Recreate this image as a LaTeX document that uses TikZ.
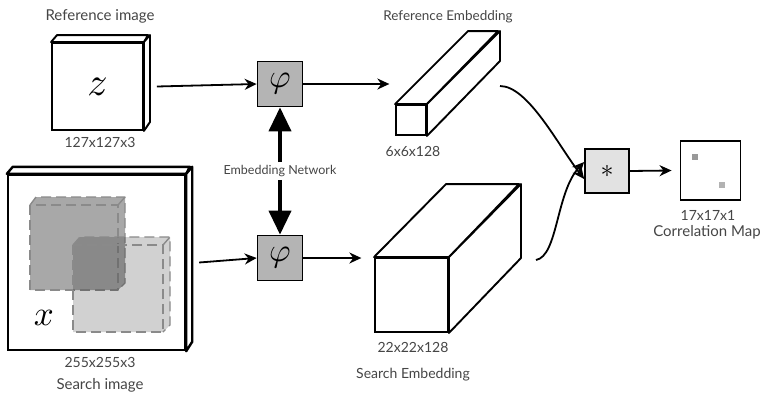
\documentclass[tikz,border=0pt]{standalone}
\usepackage{fontspec}
\setmainfont{Lato}
\usetikzlibrary{arrows.meta}
\definecolor{txt}{HTML}{454545}
\definecolor{phigray}{HTML}{B4B4B4}
\definecolor{stargray}{HTML}{E2E2E2}
\definecolor{dashgray}{HTML}{8A8A8A}
\begin{document}
\begin{tikzpicture}[x=1pt,y=-1pt,
  lab/.style={text=txt,font=\fontsize{15}{16}\selectfont,inner sep=0pt},
  numlab/.style={text=txt,font=\fontsize{14}{15}\selectfont,inner sep=0pt},
  smlab/.style={text=txt,font=\fontsize{12.5}{13}\selectfont,inner sep=0pt},
  face/.style={draw=black,line width=1.9pt,line join=round,fill=white},
  frontbox/.style={draw=black,line width=1.9pt,fill=white,inner sep=0pt,minimum width=#1},
  opbox/.style={draw=black,line width=1.7pt,inner sep=0pt,minimum width=45pt,minimum height=45pt},
  flow/.style={line width=1.8pt,-{Stealth[length=12pt,width=11pt]}},
  thick arrow/.style={line width=3.8pt,-{Triangle[length=24pt,width=22pt]}},
  dcube/.style={draw=dashgray,line width=1.4pt,dash pattern=on 10pt off 5pt,line join=round}
]
\useasboundingbox (0,0) rectangle (763,399);

% ---------- Reference image ----------
\node[frontbox=91pt,minimum height=87pt] (refimg) at (97.5,86.5) {};
\draw[face] (refimg.north west) -- ++(6,-7) -- ++(91,0) -- (refimg.north east) -- cycle;
\draw[face] (refimg.north east) -- ++(6,-7) -- ++(0,87) -- (refimg.south east) -- cycle;
\node (zlab) at (refimg.center) {\scalebox{4}{$z$}};
\node[lab] (reftitle) at (100,16) {Reference image};
\node[numlab] (refsize) at (100,142) {127x127x3};

% ---------- Search image ----------
\node[frontbox=177pt,minimum height=175pt,line width=2.4pt] (srcimg) at (96.5,262.5) {};
\draw[face,line width=2.4pt] (srcimg.north west) -- ++(6,-7) -- ++(177,0) -- (srcimg.north east) -- cycle;
\draw[face,line width=2.4pt] (srcimg.north east) -- ++(6,-7) -- ++(0,175) -- (srcimg.south east) -- cycle;
% dashed windows
\fill[black,opacity=0.34] (30,205) -- (36,197) -- (125,197) -- (125,283) -- (118,290) -- (30,290) -- cycle;
\draw[dcube] (30,205) rectangle (118,290);
\draw[dcube] (30,205) -- (36,197) -- (125,197) -- (125,283) -- (118,290);
\draw[dcube] (118,205) -- (125,197);
\fill[black,opacity=0.18] (73,245) -- (80,237) -- (170,237) -- (170,325) -- (163,332) -- (73,332) -- cycle;
\draw[dcube] (73,245) rectangle (163,332);
\draw[dcube] (73,245) -- (80,237) -- (170,237) -- (170,325) -- (163,332);
\draw[dcube] (163,245) -- (170,237);
\node (xlab) at (44,318) {\scalebox{3.5}{$x$}};
\node[numlab] (srcsize) at (100,362) {255x255x3};
\node[lab] (srctitle) at (100,385) {Search image};

% ---------- Embedding network ----------
\node[opbox,fill=phigray] (phi1) at (280,84) {\scalebox{3.3}{$\varphi$}};
\node[opbox,fill=phigray] (phi2) at (280,258) {\scalebox{3.3}{$\varphi$}};
\node[smlab] (embnet) at (280,171) {Embedding Network};
\draw[thick arrow] (embnet.north) ++(0,-3) coordinate (en1) -- (phi1.south);
\draw[thick arrow] (embnet.south) ++(0,3) coordinate (en2) -- (phi2.north);

% ---------- Reference embedding ----------
\node[frontbox=30pt,minimum height=30pt] (refemb) at (411,120) {};
\draw[face] (refemb.north west) -- ++(73,-73) -- ++(30,0) -- (refemb.north east) -- cycle;
\draw[face] (refemb.north east) -- ++(73,-73) -- ++(0,30) -- (refemb.south east) -- cycle;
\node[smlab,font=\fontsize{13.5}{14}\selectfont] (reftitle2) at (448,17) {Reference Embedding};
\node[numlab] (refembsize) at (413,151) {6x6x128};

% ---------- Search embedding ----------
\node[frontbox=73pt,minimum height=74pt] (srcemb) at (411.5,295) {};
\draw[face] (srcemb.north west) -- ++(72,-73) -- ++(73,0) -- (srcemb.north east) -- cycle;
\draw[face] (srcemb.north east) -- ++(72,-73) -- ++(0,74) -- (srcemb.south east) -- cycle;
\node[numlab] (srcembsize) at (413,347) {22x22x128};
\node[smlab,font=\fontsize{14}{15}\selectfont] (srctitle2) at (413,375) {Search Embedding};

% ---------- Cross-correlation ----------
\node[opbox,minimum width=44pt,minimum height=44pt,fill=stargray] (star) at (607,171) {\scalebox{2.6}{$*$}};
\node[draw=black,line width=1.9pt,minimum width=60pt,minimum height=59pt,inner sep=0pt] (cmap) at (710.5,170.5) {};
\fill[gray!80] (692,154) rectangle (698,160);
\fill[gray!60] (719,182) rectangle (725,188);
\node[numlab] (cmapsize) at (708,215) {17x17x1};
\node[lab] (cmaptitle) at (707,232) {Correlation Map};

% ---------- connectors ----------
\draw[flow] (refimg.east) ++(13,0) coordinate (a1) -- (phi1.west);
\draw[flow] (phi1.east) -- ++(86,0) coordinate (a2);
\draw[flow] (srcimg.east) ++(13,0) coordinate (b1) -- (phi2.west);
\draw[flow] (phi2.east) -- ++(58,0) coordinate (b2);
\coordinate (c1) at (500,86);
\coordinate (c2) at (536,260);
\draw[flow] (c1) .. controls (528,86) and (558,145) .. ([yshift=-8pt]star.west);
\draw[flow] (c2) .. controls (558,256) and (556,192) .. ([yshift=9pt]star.west);
\draw[flow] (star.east) -- ([xshift=-8pt]cmap.west);
\end{tikzpicture}
\end{document}
